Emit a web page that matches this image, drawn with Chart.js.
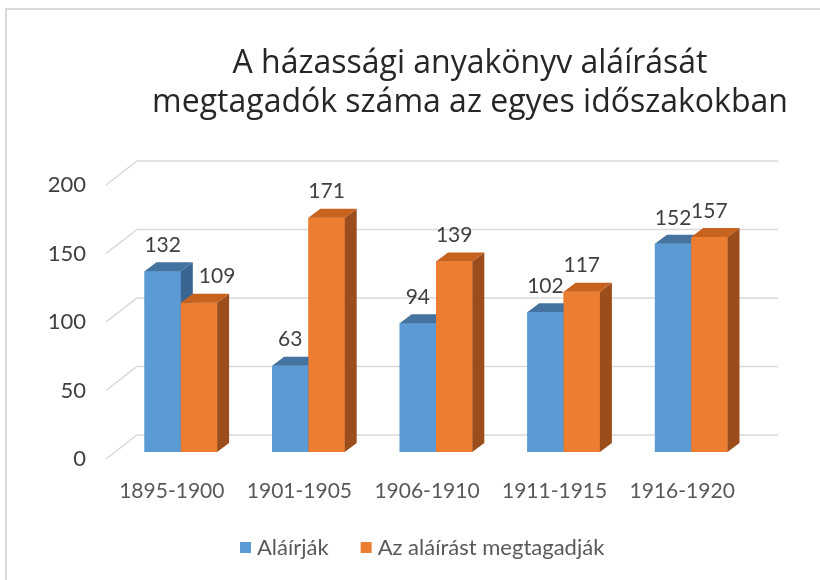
<!DOCTYPE html>
<html>
<head>
<meta charset="utf-8">
<script src="https://cdn.jsdelivr.net/npm/chart.js@4.4.0/dist/chart.umd.min.js"></script>
<style>
  html, body { margin: 0; padding: 0; background: #fff; overflow: hidden; }
  .frame { position: absolute; left: 5px; top: 8px; width: 1000px; height: 1000px;
           border-top: 2px solid #d9d9d9; border-left: 2px solid #d9d9d9; }
  #chart { position: absolute; left: 0; top: 0; }
</style>
</head>
<body>
<div class="frame"></div>
<canvas id="chart" width="820" height="580"></canvas>
<script>
const periods = ["1895-1900", "1901-1905", "1906-1910", "1911-1915", "1916-1920"];
const signed = [132, 63, 94, 102, 152];
const refused = [109, 171, 139, 117, 157];
const yTicks = [0, 50, 100, 150, 200];
const titleLines = ["A házassági anyakönyv aláírását", "megtagadók száma az egyes időszakokban"];
const seriesNames = ["Aláírják", "Az aláírást megtagadják"];

const FONT = "Lato";
const TITLE_FONT = "'Open Sans'";
const depthX = 12, depthY = 9;
const faces = [
  { top: "#44739f", side: "#3a6592" },
  { top: "#c7621f", side: "#9b4e1c" }
];

// back wall + left wall gridlines, drawn before the bars
const wallPlugin = {
  id: "wall",
  beforeDatasetsDraw(chart) {
    const { ctx, chartArea, scales } = chart;
    ctx.save();
    ctx.strokeStyle = "#d9d9d9";
    ctx.lineWidth = 1.5;
    yTicks.forEach(v => {
      const p = scales.y.getPixelForValue(v);
      ctx.beginPath();
      ctx.moveTo(chartArea.left - 11, p + 7);
      ctx.lineTo(chartArea.left + 20, p - 17);
      ctx.lineTo(chartArea.right + 23, p - 17);
      ctx.stroke();
    });
    ctx.restore();
  }
};

// chart.js paints the last dataset first, so repaint every bar here
// in dataset order together with its top and side faces
const boxPlugin = {
  id: "box",
  afterDatasetsDraw(chart) {
    const ctx = chart.ctx;
    ctx.save();
    chart.data.datasets.forEach((ds, i) => {
      const f = faces[i];
      chart.getDatasetMeta(i).data.forEach(bar => {
        bar.draw(ctx);
        const l = bar.x - bar.width / 2, r = bar.x + bar.width / 2;
        ctx.fillStyle = f.side;
        ctx.beginPath();
        ctx.moveTo(r, bar.y);
        ctx.lineTo(r + depthX, bar.y - depthY);
        ctx.lineTo(r + depthX, bar.base - depthY);
        ctx.lineTo(r, bar.base);
        ctx.closePath();
        ctx.fill();
        ctx.fillStyle = f.top;
        ctx.beginPath();
        ctx.moveTo(l, bar.y);
        ctx.lineTo(r, bar.y);
        ctx.lineTo(r + depthX, bar.y - depthY);
        ctx.lineTo(l + depthX, bar.y - depthY);
        ctx.closePath();
        ctx.fill();
      });
    });

    ctx.font = "21px " + FONT;
    ctx.fillStyle = "#404040";
    ctx.textAlign = "center";
    ctx.textBaseline = "middle";
    chart.data.datasets.forEach((ds, i) => {
      chart.getDatasetMeta(i).data.forEach((bar, j) => {
        let x = bar.x;
        const y = bar.y - 26;
        // move the label aside when it would sit on the taller bar before it
        if (i > 0) {
          const prev = chart.getDatasetMeta(i - 1).data[j];
          if (y + 10 > prev.y - depthY) x += bar.width / 2;
        }
        ctx.fillText(ds.data[j], x, y);
      });
    });
    ctx.restore();
  }
};

// title and legend
const textPlugin = {
  id: "texts",
  afterDraw(chart) {
    const ctx = chart.ctx;
    ctx.save();
    ctx.fillStyle = "#262626";
    ctx.font = "32px " + TITLE_FONT;
    ctx.textAlign = "center";
    ctx.textBaseline = "alphabetic";
    ctx.fillText(titleLines[0], 470, 73);
    ctx.fillText(titleLines[1], 470, 112);

    ctx.font = "22px " + FONT;
    ctx.textAlign = "left";
    ctx.textBaseline = "middle";
    let x = 240;
    chart.data.datasets.forEach(ds => {
      ctx.fillStyle = ds.backgroundColor;
      ctx.fillRect(x, 542, 11, 11);
      ctx.fillStyle = "#595959";
      ctx.fillText(ds.label, x + 17, 548);
      x += 17 + ctx.measureText(ds.label).width + 32;
    });
    ctx.restore();
  }
};

new Chart(document.getElementById("chart"), {
  type: "bar",
  data: {
    labels: periods,
    datasets: [
      { label: seriesNames[0], data: signed, backgroundColor: "#5b9bd5", borderWidth: 0,
        categoryPercentage: 0.569, barPercentage: 1 },
      { label: seriesNames[1], data: refused, backgroundColor: "#ed7d31", borderWidth: 0,
        categoryPercentage: 0.569, barPercentage: 1 }
    ]
  },
  options: {
    responsive: false,
    animation: false,
    layout: { padding: { left: 0, right: 65, top: 178, bottom: 0 } },
    plugins: { legend: { display: false }, title: { display: false }, tooltip: { enabled: false } },
    scales: {
      x: {
        grid: { display: false },
        border: { display: false },
        ticks: { color: "#595959", font: { family: FONT, size: 21 }, padding: 19, labelOffset: -9 },
        afterFit: s => { s.height = 128; }
      },
      y: {
        min: 0, max: 200,
        grid: { display: false },
        border: { display: false },
        ticks: { stepSize: 50, color: "#404040", font: { family: FONT, size: 22 }, padding: 23, labelOffset: 7 },
        afterFit: s => { s.width = 117; }
      }
    }
  },
  plugins: [wallPlugin, boxPlugin, textPlugin]
});
</script>
</body>
</html>
